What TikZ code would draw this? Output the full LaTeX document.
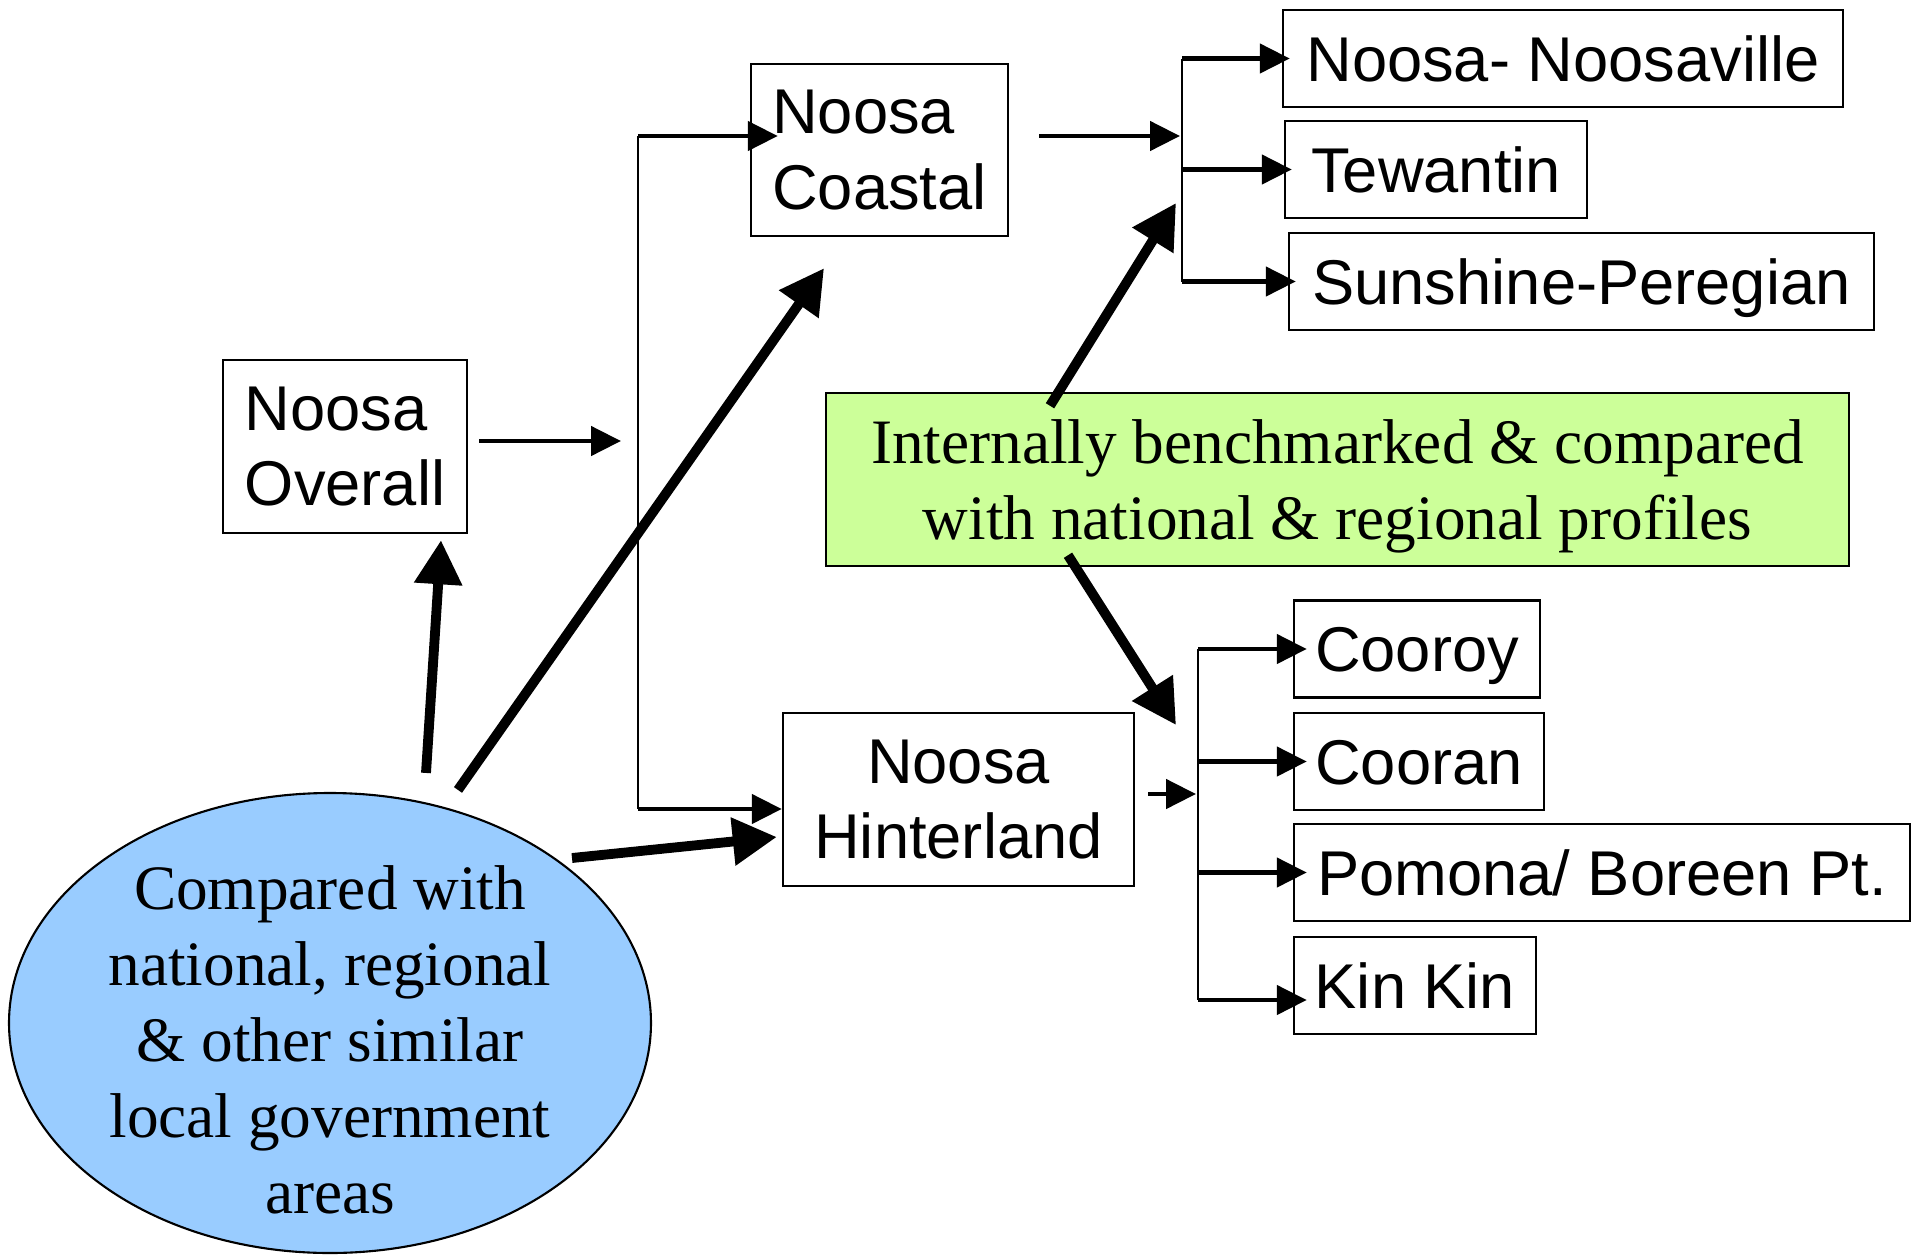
\documentclass[tikz,border=0pt]{standalone}
\usepackage{fontspec}
\setmainfont{Liberation Serif}
\setsansfont{Liberation Sans}
\usetikzlibrary{arrows.meta, shapes.geometric, calc}

\definecolor{ellblue}{HTML}{99CCFF}
\definecolor{notegreen}{HTML}{CCFF99}

\begin{document}
\begin{tikzpicture}[>={Triangle[length=3mm,width=2.9mm]},
		place/.style={draw=black, line width=0.7pt, rectangle, inner sep=0pt, font=\sffamily\fontsize{18}{21.6}\selectfont},
		slot/.style={place, minimum height=0.97cm, text height=13pt, text depth=0pt},
		serifbig/.style={font=\rmfamily\fontsize{18}{21.6}\selectfont, align=center},
		branch/.style={line width=1.35pt, ->},
		rail/.style={line width=0.7pt},
		push/.style={line width=2.8pt, -{Triangle[length=4.4mm,width=4.6mm]}}]
		\useasboundingbox (0,0) rectangle (19.21,-12.55);
		
		% Areas
		\node[place, minimum width=2.44cm, minimum height=1.73cm, align=left] (overall) at (3.45,-4.465) {Noosa\\Overall};
		\node[place, minimum width=2.57cm, minimum height=1.72cm, align=left] (coastal) at (8.795,-1.50) {Noosa\\Coastal};
		\node[place, minimum width=3.51cm, minimum height=1.73cm, align=center] (hinter) at (9.585,-7.995) {Noosa\\Hinterland};
		
		% Localities
		\node[slot, minimum width=5.60cm] (noosaville) at (15.63,-0.585) {Noosa- Noosaville};
		\node[slot, minimum width=3.02cm] (tewantin) at (14.36,-1.695) {Tewantin};
		\node[slot, minimum width=5.85cm] (sunshine) at (15.815,-2.815) {Sunshine-Peregian};
		\node[slot, minimum width=2.46cm] (cooroy) at (14.17,-6.49) {Cooroy};
		\node[slot, minimum width=2.50cm] (cooran) at (14.19,-7.615) {Cooran};
		\node[slot, minimum width=6.16cm] (pomona) at (16.02,-8.725) {Pomona/ Boreen Pt.};
		\node[slot, minimum width=2.42cm] (kinkin) at (14.15,-9.855) {Kin Kin};
		
		% Comparisons
		\node[draw=black, line width=0.7pt, fill=notegreen, minimum width=10.23cm, minimum height=1.73cm, inner sep=0pt, text depth=0pt, serifbig] (internal) at (13.375,-4.795) {Internally benchmarked \& compared\\with national \& regional profiles};
		\node[draw=black, line width=0.6pt, fill=ellblue, ellipse, minimum width=6.42cm, minimum height=4.60cm, inner sep=0pt] (cmp) at (3.30,-10.23) {};
		\node[serifbig] (cmplabel) at (3.30,-10.40) {Compared with\\national, regional\\\& other similar\\local government\\areas};
		
		% Rails
		\coordinate (railL) at (6.38,-4.41);
		\coordinate (railLtop) at (6.38,-1.36);
		\coordinate (railLbot) at (6.38,-8.09);
		\coordinate (railR) at (11.82,-1.36);
		\coordinate (railH) at (11.98,-7.94);
		\coordinate (kinkinin) at ([yshift=-1.45mm]kinkin.west);
		\coordinate (upTip) at (11.76,-2.03);
		\coordinate (downTip) at (11.76,-7.25);
		
		\draw[branch, shorten <=1.1mm, shorten >=1.7mm] (overall.east |- railL) -- (railL);
		\draw[rail] (railLtop) -- (railLbot);
		\draw[branch] (railLtop) -- ([xshift=2.8mm]coastal.west |- railLtop);
		\draw[branch] (railLbot) -- (hinter.west |- railLbot);
		
		\draw[branch, shorten <=3mm, shorten >=0.2mm] (coastal.east |- railR) -- (railR);
		\draw[rail] (railR |- noosaville.west) -- (railR |- sunshine.west);
		\foreach \n in {noosaville,tewantin,sunshine}{
			\draw[branch] (railR |- \n.west) -- ([xshift=0.8mm]\n.west);
		}
		
		\draw[branch, shorten <=1.3mm, shorten >=0.2mm] (hinter.east |- railH) -- (railH);
		\draw[rail] (railH |- cooroy.west) -- (railH |- kinkinin);
		\foreach \n in {cooroy,cooran,pomona}{
			\draw[branch] (railH |- \n.west) -- ([xshift=1.4mm]\n.west);
		}
		\draw[branch] (railH |- kinkinin) -- ([xshift=1.4mm]kinkinin);
		
		% Thick arrows
		\draw[push] ([shift={(0.96,0.19)}]cmp.north) -- ([shift={(0.96,-0.06)}]overall.south);
		\draw[push] ([shift={(1.28,0.02)}]cmp.north) -- ([shift={(-0.555,-0.31)}]coastal.south);
		\draw[push] ([shift={(2.42,1.65)}]cmp.center) -- ([shift={(-0.05,-0.375)}]hinter.west);
		\draw[push] ([shift={(-2.875,-0.14)}]internal.north) -- (upTip);
		\draw[push] ([shift={(-2.695,0.12)}]internal.south) -- (downTip);
	\end{tikzpicture}
\end{document}
